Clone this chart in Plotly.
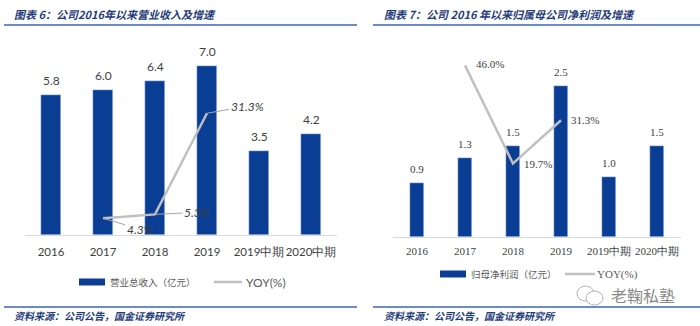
import plotly.graph_objects as go

W, H = 700, 326

categories = ["2016", "2017", "2018", "2019", "2019中期", "2020中期"]
revenue = [5.8, 6.0, 6.4, 7.0, 3.5, 4.2]
revenue_yoy = [None, 4.3, 5.3, 31.3, None, None]
profit = [0.9, 1.3, 1.5, 2.5, 1.0, 1.5]
profit_yoy = [None, 46.0, 19.7, 31.3, None, None]

left_title = "图表 6：公司2016年以来营业收入及增速"
right_title = "图表 7：公司 2016 年以来归属母公司净利润及增速"
source_text = "资料来源：公司公告，国金证券研究所"
left_bar_name = "营业总收入（亿元）"
right_bar_name = "归母净利润（亿元）"
line_name = "YOY(%)"
watermark = "老鞠私塾"

BAR = "#0a3d94"
GRAY = "#c0c0c0"
TITLE_C = "#1f3d7a"
RULE_C = "#3a66b0"
TXT = "#404040"


def px(x):
    return x / W


def py(y):
    return 1 - y / H


fig = go.Figure()

fig.add_trace(go.Bar(x=categories, y=revenue, marker_color=BAR, width=0.385,
                     xaxis="x", yaxis="y", showlegend=False, name=left_bar_name))
fig.add_trace(go.Scatter(x=categories, y=revenue_yoy, mode="lines",
                         line=dict(color=GRAY, width=2.5), xaxis="x", yaxis="y2",
                         showlegend=False, name=line_name))
fig.add_trace(go.Bar(x=categories, y=profit, marker_color=BAR, width=0.31,
                     xaxis="x2", yaxis="y3", showlegend=False, name=right_bar_name))
fig.add_trace(go.Scatter(x=categories, y=profit_yoy, mode="lines",
                         line=dict(color=GRAY, width=2.5), xaxis="x2", yaxis="y4",
                         showlegend=False, name=line_name))

annotations = []
# bar value labels (x given as category index)
for i, v in enumerate(revenue):
    annotations.append(dict(x=i, y=v, xref="x", yref="y", text=f"{v:.1f}",
                            showarrow=False, yanchor="bottom", yshift=5,
                            font=dict(family="Lato, Liberation Sans", size=12, color=TXT)))
for i, v in enumerate(profit):
    annotations.append(dict(x=i, y=v, xref="x2", yref="y3", text=f"{v:.1f}",
                            showarrow=False, yanchor="bottom", yshift=6,
                            font=dict(family="Liberation Serif", size=11, color=TXT)))

# left yoy labels with leader lines
left_offsets = {1: (37, 11), 2: (42, -2), 3: (40, -7)}
for i, (ax, ay) in left_offsets.items():
    v = revenue_yoy[i]
    annotations.append(dict(x=i, y=v, xref="x", yref="y2",
                            text=f"<i>{v:.1f}%</i>", showarrow=True, arrowhead=0,
                            arrowwidth=1, arrowcolor="#a6a6a6", ax=ax, ay=ay,
                            standoff=0, startstandoff=0,
                            font=dict(family="Lato, Liberation Sans", size=12, color=TXT)))
# right yoy labels
right_offsets = {1: (25, 1), 2: (25, 0), 3: (24, 0)}
for i, (xs, ys) in right_offsets.items():
    v = profit_yoy[i]
    annotations.append(dict(x=i, y=v, xref="x2", yref="y4",
                            text=f"{v:.1f}%", showarrow=False, xshift=xs, yshift=ys,
                            font=dict(family="Liberation Serif", size=11, color=TXT)))

# titles
annotations.append(dict(x=px(12), y=py(14), xref="paper", yref="paper", xanchor="left",
                        yanchor="middle", showarrow=False,
                        text=f"<b><i>{left_title}</i></b>",
                        font=dict(family="Noto Sans CJK SC", size=11, color=TITLE_C)))
annotations.append(dict(x=px(382), y=py(14), xref="paper", yref="paper", xanchor="left",
                        yanchor="middle", showarrow=False,
                        text=f"<b><i>{right_title}</i></b>",
                        font=dict(family="Noto Sans CJK SC", size=11, color=TITLE_C)))
# sources
for x0 in (12, 382):
    annotations.append(dict(x=px(x0), y=py(315), xref="paper", yref="paper", xanchor="left",
                            yanchor="middle", showarrow=False,
                            text=f"<b><i>{source_text}</i></b>",
                            font=dict(family="Noto Sans CJK SC", size=10, color=TITLE_C)))

shapes = []
for (x0, x1) in ((4, 357), (373, 700)):
    for yy in (25, 307):
        shapes.append(dict(type="line", xref="paper", yref="paper",
                           x0=px(x0), x1=px(x1), y0=py(yy), y1=py(yy),
                           line=dict(color=RULE_C, width=1.5)))


# legends (manual)
def legend(bx0, bx1, by, name, lx0, lx1, tx, txt_font, txt_size, name_x):
    shapes.append(dict(type="rect", xref="paper", yref="paper", x0=px(bx0), x1=px(bx1),
                       y0=py(by + 3.5), y1=py(by - 3.5), fillcolor=BAR, line=dict(width=0)))
    annotations.append(dict(x=px(name_x), y=py(by), xref="paper", yref="paper",
                            xanchor="left", yanchor="middle", showarrow=False, text=name,
                            font=dict(family="Noto Sans CJK SC", size=9.5, color="#595959")))
    shapes.append(dict(type="line", xref="paper", yref="paper", x0=px(lx0), x1=px(lx1),
                       y0=py(by), y1=py(by), line=dict(color=GRAY, width=2.5)))
    annotations.append(dict(x=px(tx), y=py(by), xref="paper", yref="paper",
                            xanchor="left", yanchor="middle", showarrow=False, text=line_name,
                            font=dict(family=txt_font, size=txt_size, color="#595959")))


legend(79, 105, 282, left_bar_name, 214, 242, 244, "Lato, Liberation Sans", 12, 108)
legend(440, 466, 274, right_bar_name, 565, 595, 595, "Liberation Serif", 11, 469)

# watermark
annotations.append(dict(x=px(609), y=py(295), xref="paper", yref="paper", xanchor="left",
                        yanchor="middle", showarrow=False, text=watermark,
                        font=dict(family="Noto Sans CJK SC", size=16, color="#8a8a8a")))
shapes.append(dict(type="circle", xref="paper", yref="paper", x0=px(577), x1=px(594),
                   y0=py(301), y1=py(286), line=dict(color="#b0b0b0", width=1)))
shapes.append(dict(type="circle", xref="paper", yref="paper", x0=px(586), x1=px(603),
                   y0=py(305), y1=py(291), fillcolor="white", line=dict(color="#b0b0b0", width=1)))

axis_common = dict(showgrid=False, zeroline=False, showticklabels=False, fixedrange=True)

fig.update_layout(
    width=W, height=H, margin=dict(l=0, r=0, t=0, b=0),
    paper_bgcolor="white", plot_bgcolor="rgba(0,0,0,0)",
    xaxis=dict(type="category", domain=[px(25), px(337)], range=[-0.5, 5.5], anchor="y",
               showgrid=False, showline=True, linecolor="#d9d9d9", linewidth=1, ticks="",
               tickangle=0, ticklabelstandoff=6,
               tickfont=dict(family="Lato, Liberation Sans", size=11.5, color=TXT)),
    yaxis=dict(domain=[py(235), py(45)], range=[0, 190 / 24.1], **axis_common),
    yaxis2=dict(overlaying="y", range=[0, 190 / 3.89], **axis_common),
    xaxis2=dict(type="category", domain=[px(393), px(681)], range=[-0.5, 5.5], anchor="y3",
                showgrid=False, showline=True, linecolor="#d9d9d9", linewidth=1, ticks="",
                tickangle=0, ticklabelstandoff=4,
                tickfont=dict(family="Liberation Serif", size=11, color=TXT)),
    yaxis3=dict(domain=[py(237), py(45)], range=[0, 192 / 60.5], anchor="x2", **axis_common),
    yaxis4=dict(overlaying="y3", range=[0, 192 / 3.73], anchor="x2", **axis_common),
    annotations=annotations, shapes=shapes, bargap=0,
)

fig.write_html("out.html")
